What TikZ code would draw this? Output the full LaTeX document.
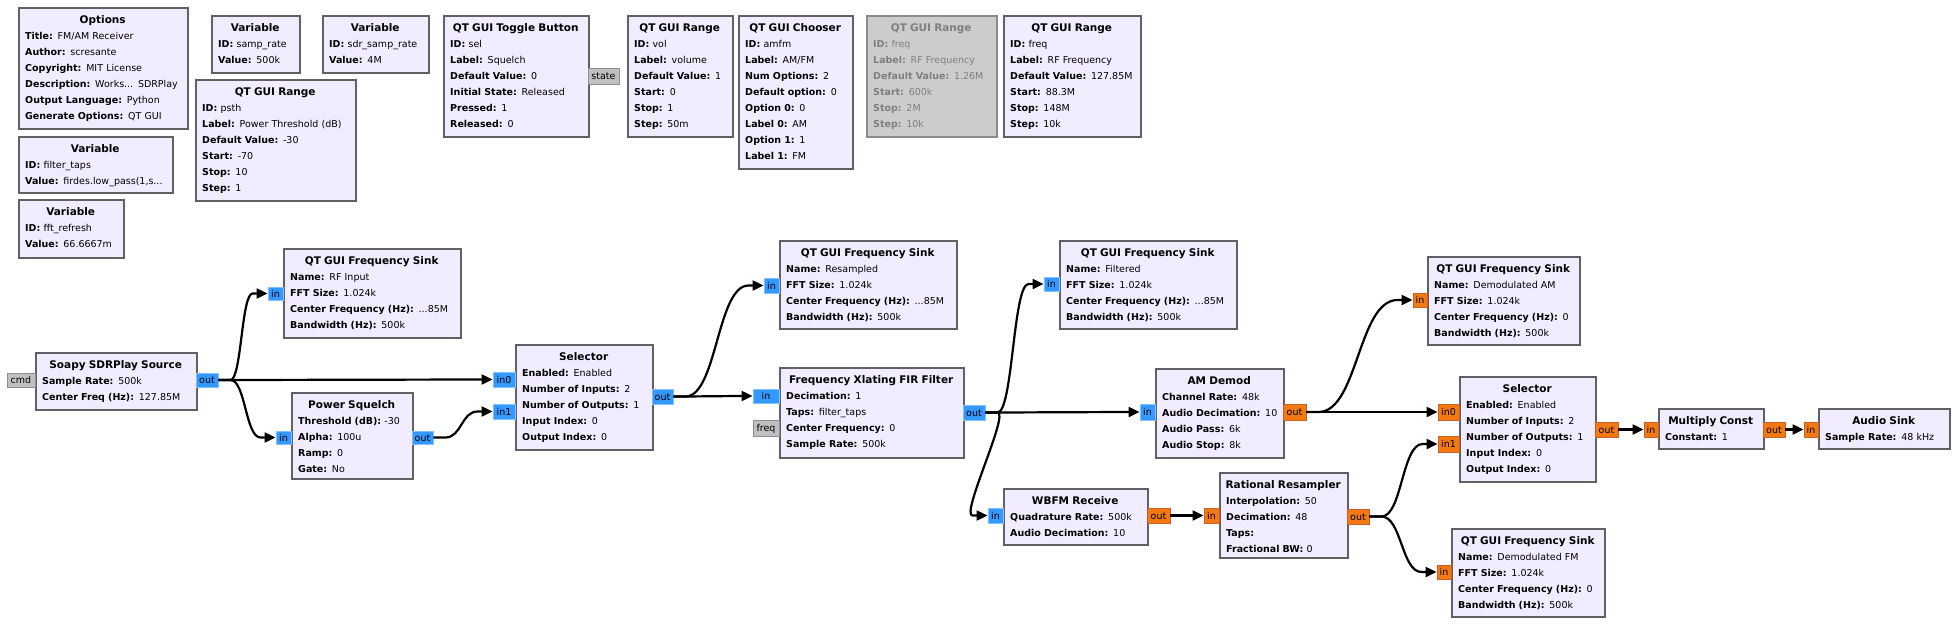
\documentclass[tikz,border=0pt]{standalone}
\usepackage{fontspec}
\setmainfont{DejaVu Sans}
\usetikzlibrary{calc,arrows.meta}
\setlength{\parindent}{0pt}
\definecolor{blkfill}{HTML}{F1ECFF}
\definecolor{blkdraw}{HTML}{616161}
\definecolor{cplxc}{HTML}{3399FF}
\definecolor{cplxb}{HTML}{86C0FA}
\definecolor{fltc}{HTML}{F37913}
\definecolor{fltb}{HTML}{C8602A}
\definecolor{msgc}{HTML}{C0C0C0}
\definecolor{msgb}{HTML}{8E8E8E}
\definecolor{disfill}{HTML}{CCCCCC}
\definecolor{disdraw}{HTML}{8C8C8C}
\definecolor{distext}{HTML}{7F7F7F}
\newcommand\kvp[2]{\mbox{\textbf{#1:} #2}}
\newcommand\blktitlefont{\fontsize{10.5}{16}\selectfont\bfseries}
\newcommand\blkbodyfont{\fontsize{9.5}{16}\selectfont}
\tikzset{
  blockbox/.style={rectangle, draw=blkdraw, fill=blkfill, line width=2pt, inner sep=0pt},
  blocktext/.style={inner sep=0pt, align=left, font=\blkbodyfont},
  port/.style={rectangle, inner sep=0pt, line width=0.9pt, font=\blkbodyfont, text height=7pt, text depth=0pt},
  cplx/.style={fill=cplxc, draw=cplxb},
  flt/.style={fill=fltc, draw=fltb},
  msg/.style={fill=msgc, draw=msgb},
  conn/.style={line width=2.2pt, black, -{Triangle[length=11pt,width=10pt]}}
}
% block: [box style]{name}{x1}{y1}{x2}{y2}{title}{lines}
\newcommand\blk[8][]{%
  \pgfmathsetmacro\bkw{#5-#3}\pgfmathsetmacro\bkh{#6-#4}\pgfmathsetmacro\bktw{#5-#3-14}%
  \node[blockbox,#1,minimum width=\bkw pt,minimum height=\bkh pt,anchor=north west] (#2) at (#3,#4) {};
  \node[blocktext,text width=\bktw pt,anchor=base west] (#2-t) at ($(#2.north west)+(7,16.5)$) {\makebox[\hsize][c]{\blktitlefont #7}\\#8};
}
% port: [style]{name}{x1}{y1}{x2}{y2}{text}
\newcommand\prt[7][]{%
  \pgfmathsetmacro\pw{#5-#3}\pgfmathsetmacro\ph{#6-#4}%
  \pgfmathsetmacro\pcx{(#3+#5)/2}\pgfmathsetmacro\pcy{(#4+#6)/2}%
  \node[port,#1,minimum width=\pw pt,minimum height=\ph pt] (#2) at (\pcx,\pcy) {#7};
}
% connection from an output port to an input port
\newcommand\cn[2]{%
  \draw[conn] let \p1=(#1.east), \p2=(#2.west), \n1={max(abs(\x2-\x1-27pt)/2,10pt)} in
    (\p1) -- ++(12pt,0) .. controls +(\n1,0) and +(-\n1,0) .. ($(\p2)+(-15pt,0)$) -- (\p2);
}
\begin{document}
\begin{tikzpicture}[x=1pt,y=-1pt]
\useasboundingbox (0,0) rectangle (1955,624);

% ---- variable / GUI blocks
\blk{opts}{18}{7}{187}{128}{Options}{\kvp{Title}{FM/AM Receiver}\\\kvp{Author}{scresante}\\\kvp{Copyright}{MIT License}\\\kvp{Description}{Works... SDRPlay}\\\kvp{Output Language}{Python}\\\kvp{Generate Options}{QT GUI}}
\blk{vsamp}{211}{15}{299}{72}{Variable}{\kvp{ID}{samp\_rate}\\\kvp{Value}{500k}}
\blk{vsdr}{322}{15}{428}{72}{Variable}{\kvp{ID}{sdr\_samp\_rate}\\\kvp{Value}{4M}}
\blk{rpsth}{195}{79}{355}{200}{QT GUI Range}{\kvp{ID}{psth}\\\kvp{Label}{Power Threshold (dB)}\\\kvp{Default Value}{-30}\\\kvp{Start}{-70}\\\kvp{Stop}{10}\\\kvp{Step}{1}}
\blk{vtaps}{18}{136}{172}{192}{Variable}{\kvp{ID}{filter\_taps}\\\kvp{Value}{firdes.low\_pass(1,s...}}
\blk{vfft}{18}{199}{123}{257}{Variable}{\kvp{ID}{fft\_refresh}\\\kvp{Value}{66.6667m}}
\blk{tog}{443}{15}{588}{136}{QT GUI Toggle Button}{\kvp{ID}{sel}\\\kvp{Label}{Squelch}\\\kvp{Default Value}{0}\\\kvp{Initial State}{Released}\\\kvp{Pressed}{1}\\\kvp{Released}{0}}
\blk{rvol}{627}{15}{732}{136}{QT GUI Range}{\kvp{ID}{vol}\\\kvp{Label}{volume}\\\kvp{Default Value}{1}\\\kvp{Start}{0}\\\kvp{Stop}{1}\\\kvp{Step}{50m}}
\blk{choo}{738}{15}{852}{168}{QT GUI Chooser}{\kvp{ID}{amfm}\\\kvp{Label}{AM/FM}\\\kvp{Num Options}{2}\\\kvp{Default option}{0}\\\kvp{Option 0}{0}\\\kvp{Label 0}{AM}\\\kvp{Option 1}{1}\\\kvp{Label 1}{FM}}
% disabled range
\node[blockbox,fill=disfill,draw=disdraw,minimum width=130pt,minimum height=121pt,anchor=north west] (rdis) at (866,15) {};
\node[blocktext,text=distext,text width=116pt,anchor=base west] (rdis-t) at ($(rdis.north west)+(7,16.5)$) {\makebox[\hsize][c]{\blktitlefont QT GUI Range}\\\kvp{ID}{freq}\\\kvp{Label}{RF Frequency}\\\kvp{Default Value}{1.26M}\\\kvp{Start}{600k}\\\kvp{Stop}{2M}\\\kvp{Step}{10k}};
\blk{rfreq}{1003}{15}{1140}{136}{QT GUI Range}{\kvp{ID}{freq}\\\kvp{Label}{RF Frequency}\\\kvp{Default Value}{127.85M}\\\kvp{Start}{88.3M}\\\kvp{Stop}{148M}\\\kvp{Step}{10k}}

% ---- signal blocks
\blk{snkrf}{283}{248}{460}{337}{QT GUI Frequency Sink}{\kvp{Name}{RF Input}\\\kvp{FFT Size}{1.024k}\\\kvp{Center Frequency (Hz)}{...85M}\\\kvp{Bandwidth (Hz)}{500k}}
\blk{soapy}{35}{352}{196}{409}{Soapy SDRPlay Source}{\kvp{Sample Rate}{500k}\\\kvp{Center Freq (Hz)}{127.85M}}
\blk{squelch}{291}{392}{412}{478}{Power Squelch}{\kvp{Threshold (dB)}{-30}\\\kvp{Alpha}{100u}\\\kvp{Ramp}{0}\\\kvp{Gate}{No}}
\blk{sel1}{515}{344}{652}{449}{Selector}{\kvp{Enabled}{Enabled}\\\kvp{Number of Inputs}{2}\\\kvp{Number of Outputs}{1}\\\kvp{Input Index}{0}\\\kvp{Output Index}{0}}
\blk{snkres}{779}{240}{956}{328}{QT GUI Frequency Sink}{\kvp{Name}{Resampled}\\\kvp{FFT Size}{1.024k}\\\kvp{Center Frequency (Hz)}{...85M}\\\kvp{Bandwidth (Hz)}{500k}}
\blk{xlat}{779}{367}{963}{457}{Frequency Xlating FIR Filter}{\kvp{Decimation}{1}\\\kvp{Taps}{filter\_taps}\\\kvp{Center Frequency}{0}\\\kvp{Sample Rate}{500k}}
\blk{snkfilt}{1059}{240}{1236}{328}{QT GUI Frequency Sink}{\kvp{Name}{Filtered}\\\kvp{FFT Size}{1.024k}\\\kvp{Center Frequency (Hz)}{...85M}\\\kvp{Bandwidth (Hz)}{500k}}
\blk{amd}{1155}{368}{1283}{457}{AM Demod}{\kvp{Channel Rate}{48k}\\\kvp{Audio Decimation}{10}\\\kvp{Audio Pass}{6k}\\\kvp{Audio Stop}{8k}}
\blk{wbfm}{1003}{488}{1147}{544}{WBFM Receive}{\kvp{Quadrature Rate}{500k}\\\kvp{Audio Decimation}{10}}
\blk{rres}{1219}{472}{1347}{557}{Rational Resampler}{\kvp{Interpolation}{50}\\\kvp{Decimation}{48}\\\kvp{Taps}{}\\\kvp{Fractional BW}{0}}
\blk{snkam}{1427}{256}{1579}{344}{QT GUI Frequency Sink}{\kvp{Name}{Demodulated AM}\\\kvp{FFT Size}{1.024k}\\\kvp{Center Frequency (Hz)}{0}\\\kvp{Bandwidth (Hz)}{500k}}
\blk{sel2}{1459}{376}{1595}{481}{Selector}{\kvp{Enabled}{Enabled}\\\kvp{Number of Inputs}{2}\\\kvp{Number of Outputs}{1}\\\kvp{Input Index}{0}\\\kvp{Output Index}{0}}
\blk{mult}{1658}{408}{1763}{448}{Multiply Const}{\kvp{Constant}{1}}
\blk{audio}{1818}{408}{1949}{448}{Audio Sink}{\kvp{Sample Rate}{48 kHz}}
\blk{snkfm}{1451}{528}{1604}{616}{QT GUI Frequency Sink}{\kvp{Name}{Demodulated FM}\\\kvp{FFT Size}{1.024k}\\\kvp{Center Frequency (Hz)}{0}\\\kvp{Bandwidth (Hz)}{500k}}

% ---- ports
\prt[msg]{tog-state}{588}{68}{619}{84}{state}
\prt[cplx]{rf-in}{268}{287}{283}{300}{in}
\prt[msg]{soapy-cmd}{7}{373}{35}{387}{cmd}
\prt[cplx]{soapy-out}{196}{373}{218}{387}{out}
\prt[cplx]{sq-in}{276}{431}{291}{444}{in}
\prt[cplx]{sq-out}{412}{431}{433}{444}{out}
\prt[cplx]{s1-in0}{493}{372}{515}{387}{in0}
\prt[cplx]{s1-in1}{493}{404}{515}{419}{in1}
\prt[cplx]{s1-out}{652}{389}{673}{404}{out}
\prt[cplx]{res-in}{764}{278}{779}{293}{in}
\prt[cplx]{xl-in}{753}{389}{779}{403}{in}
\prt[msg]{xl-freq}{753}{420}{779}{436}{freq}
\prt[cplx]{xl-out}{963}{405}{985}{420}{out}
\prt[cplx]{filt-in}{1044}{277}{1059}{291}{in}
\prt[cplx]{am-in}{1140}{404}{1155}{420}{in}
\prt[flt]{am-out}{1283}{404}{1306}{420}{out}
\prt[cplx]{wb-in}{988}{508}{1003}{523}{in}
\prt[flt]{wb-out}{1147}{508}{1170}{523}{out}
\prt[flt]{rr-in}{1204}{508}{1219}{523}{in}
\prt[flt]{rr-out}{1347}{509}{1369}{524}{out}
\prt[flt]{dam-in}{1413}{293}{1427}{307}{in}
\prt[flt]{s2-in0}{1438}{404}{1459}{420}{in0}
\prt[flt]{s2-in1}{1438}{436}{1459}{452}{in1}
\prt[flt]{s2-out}{1595}{422}{1618}{437}{out}
\prt[flt]{mc-in}{1644}{422}{1658}{437}{in}
\prt[flt]{mc-out}{1763}{422}{1785}{437}{out}
\prt[flt]{as-in}{1804}{422}{1818}{437}{in}
\prt[flt]{dfm-in}{1437}{565}{1451}{579}{in}

% ---- connections
\cn{soapy-out}{rf-in}
\cn{soapy-out}{s1-in0}
\cn{soapy-out}{sq-in}
\cn{sq-out}{s1-in1}
\cn{s1-out}{res-in}
\cn{s1-out}{xl-in}
\cn{xl-out}{filt-in}
\cn{xl-out}{am-in}
\cn{xl-out}{wb-in}
\cn{wb-out}{rr-in}
\cn{am-out}{dam-in}
\cn{am-out}{s2-in0}
\cn{rr-out}{s2-in1}
\cn{rr-out}{dfm-in}
\cn{s2-out}{mc-in}
\cn{mc-out}{as-in}
\end{tikzpicture}
\end{document}
